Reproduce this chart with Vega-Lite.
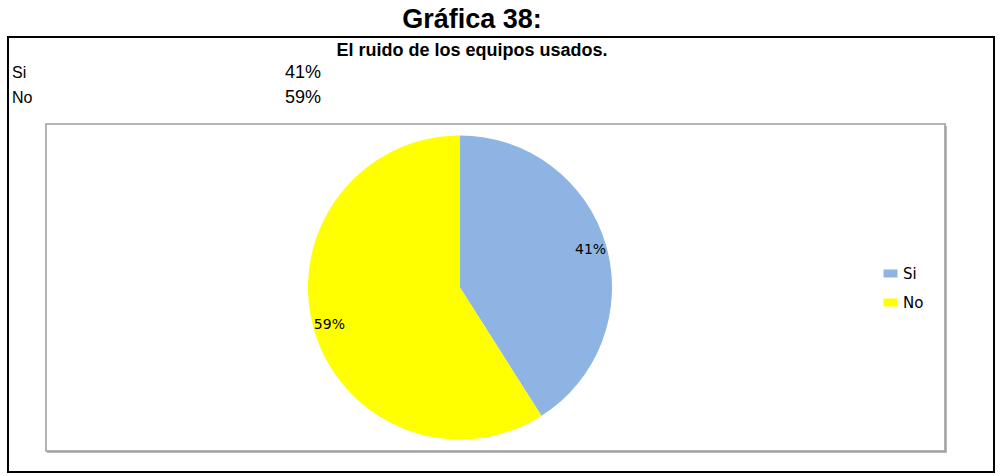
{
  "$schema": "https://vega.github.io/schema/vega-lite/v6.json",
  "width": 986,
  "height": 435,
  "autosize": {"type": "none"},
  "padding": {"left": 8, "top": 37, "right": 6, "bottom": 4},
  "background": "white",
  "title": {
    "text": "Gráfica 38:",
    "subtitle": "El ruido de los equipos usados.",
    "anchor": "middle",
    "dx": -29,
    "offset": -24,
    "font": "Liberation Sans",
    "fontSize": 27,
    "fontWeight": "bold",
    "color": "black",
    "subtitleFont": "Liberation Sans",
    "subtitleFontSize": 18,
    "subtitleFontWeight": "bold",
    "subtitleColor": "black",
    "subtitlePadding": 8
  },
  "data": {"values": [
    {"categoria": "Si", "porcentaje": 0.41},
    {"categoria": "No", "porcentaje": 0.59}
  ]},
  "layer": [
    {
      "data": {"values": [{}]},
      "mark": {"type": "rect", "x": 39, "x2": 939, "y": 89, "y2": 416, "fill": "#b8b8b8"},
      "encoding": {}
    },
    {
      "data": {"values": [{}]},
      "mark": {"type": "rect", "x": 38, "x2": 937, "y": 87, "y2": 414, "fill": "white", "stroke": "#9a9a9a", "strokeWidth": 1.5},
      "encoding": {}
    },
    {
      "mark": {"type": "arc", "outerRadius": 152, "xOffset": -41, "yOffset": 33},
      "encoding": {
        "theta": {"field": "porcentaje", "type": "quantitative", "stack": true},
        "order": {"field": "porcentaje", "sort": "ascending"},
        "color": {
          "field": "categoria",
          "type": "nominal",
          "scale": {"domain": ["Si", "No"], "range": ["#8EB4E3", "#FFFF00"]},
          "legend": {
            "orient": "none",
            "legendX": 875,
            "legendY": 229,
            "title": null,
            "symbolType": "M-1,-0.57H1V0.57H-1Z",
            "symbolSize": 196,
            "symbolStrokeWidth": 0,
            "labelFont": "DejaVu Sans",
            "labelFontSize": 15,
            "labelColor": "black",
            "rowPadding": 13,
            "labelOffset": 5,
            "padding": 0
          }
        }
      }
    },
    {
      "mark": {"type": "text", "radius": 136, "xOffset": -41, "yOffset": 33, "font": "DejaVu Sans", "fontSize": 14, "color": "black"},
      "encoding": {
        "theta": {"field": "porcentaje", "type": "quantitative", "stack": true},
        "order": {"field": "porcentaje", "sort": "ascending"},
        "text": {"field": "porcentaje", "type": "quantitative", "format": ".0%"}
      }
    },
    {
      "mark": {"type": "text", "align": "left", "baseline": "alphabetic", "font": "Liberation Sans", "fontSize": 16, "color": "black"},
      "encoding": {
        "x": {"datum": "etiqueta", "type": "nominal", "scale": {"type": "point", "domain": ["etiqueta", "valor"], "range": [4, 277], "padding": 0}, "axis": null},
        "y": {"field": "categoria", "type": "nominal", "scale": {"type": "point", "domain": ["Si", "No"], "range": [41, 66], "padding": 0}, "axis": null},
        "text": {"field": "categoria", "type": "nominal"}
      }
    },
    {
      "mark": {"type": "text", "align": "left", "baseline": "alphabetic", "font": "Liberation Sans", "fontSize": 18, "color": "black"},
      "encoding": {
        "x": {"datum": "valor", "type": "nominal"},
        "y": {"field": "categoria", "type": "nominal"},
        "text": {"field": "porcentaje", "type": "quantitative", "format": ".0%"}
      }
    }
  ],
  "config": {
    "view": {"stroke": "black", "strokeWidth": 2}
  }
}
